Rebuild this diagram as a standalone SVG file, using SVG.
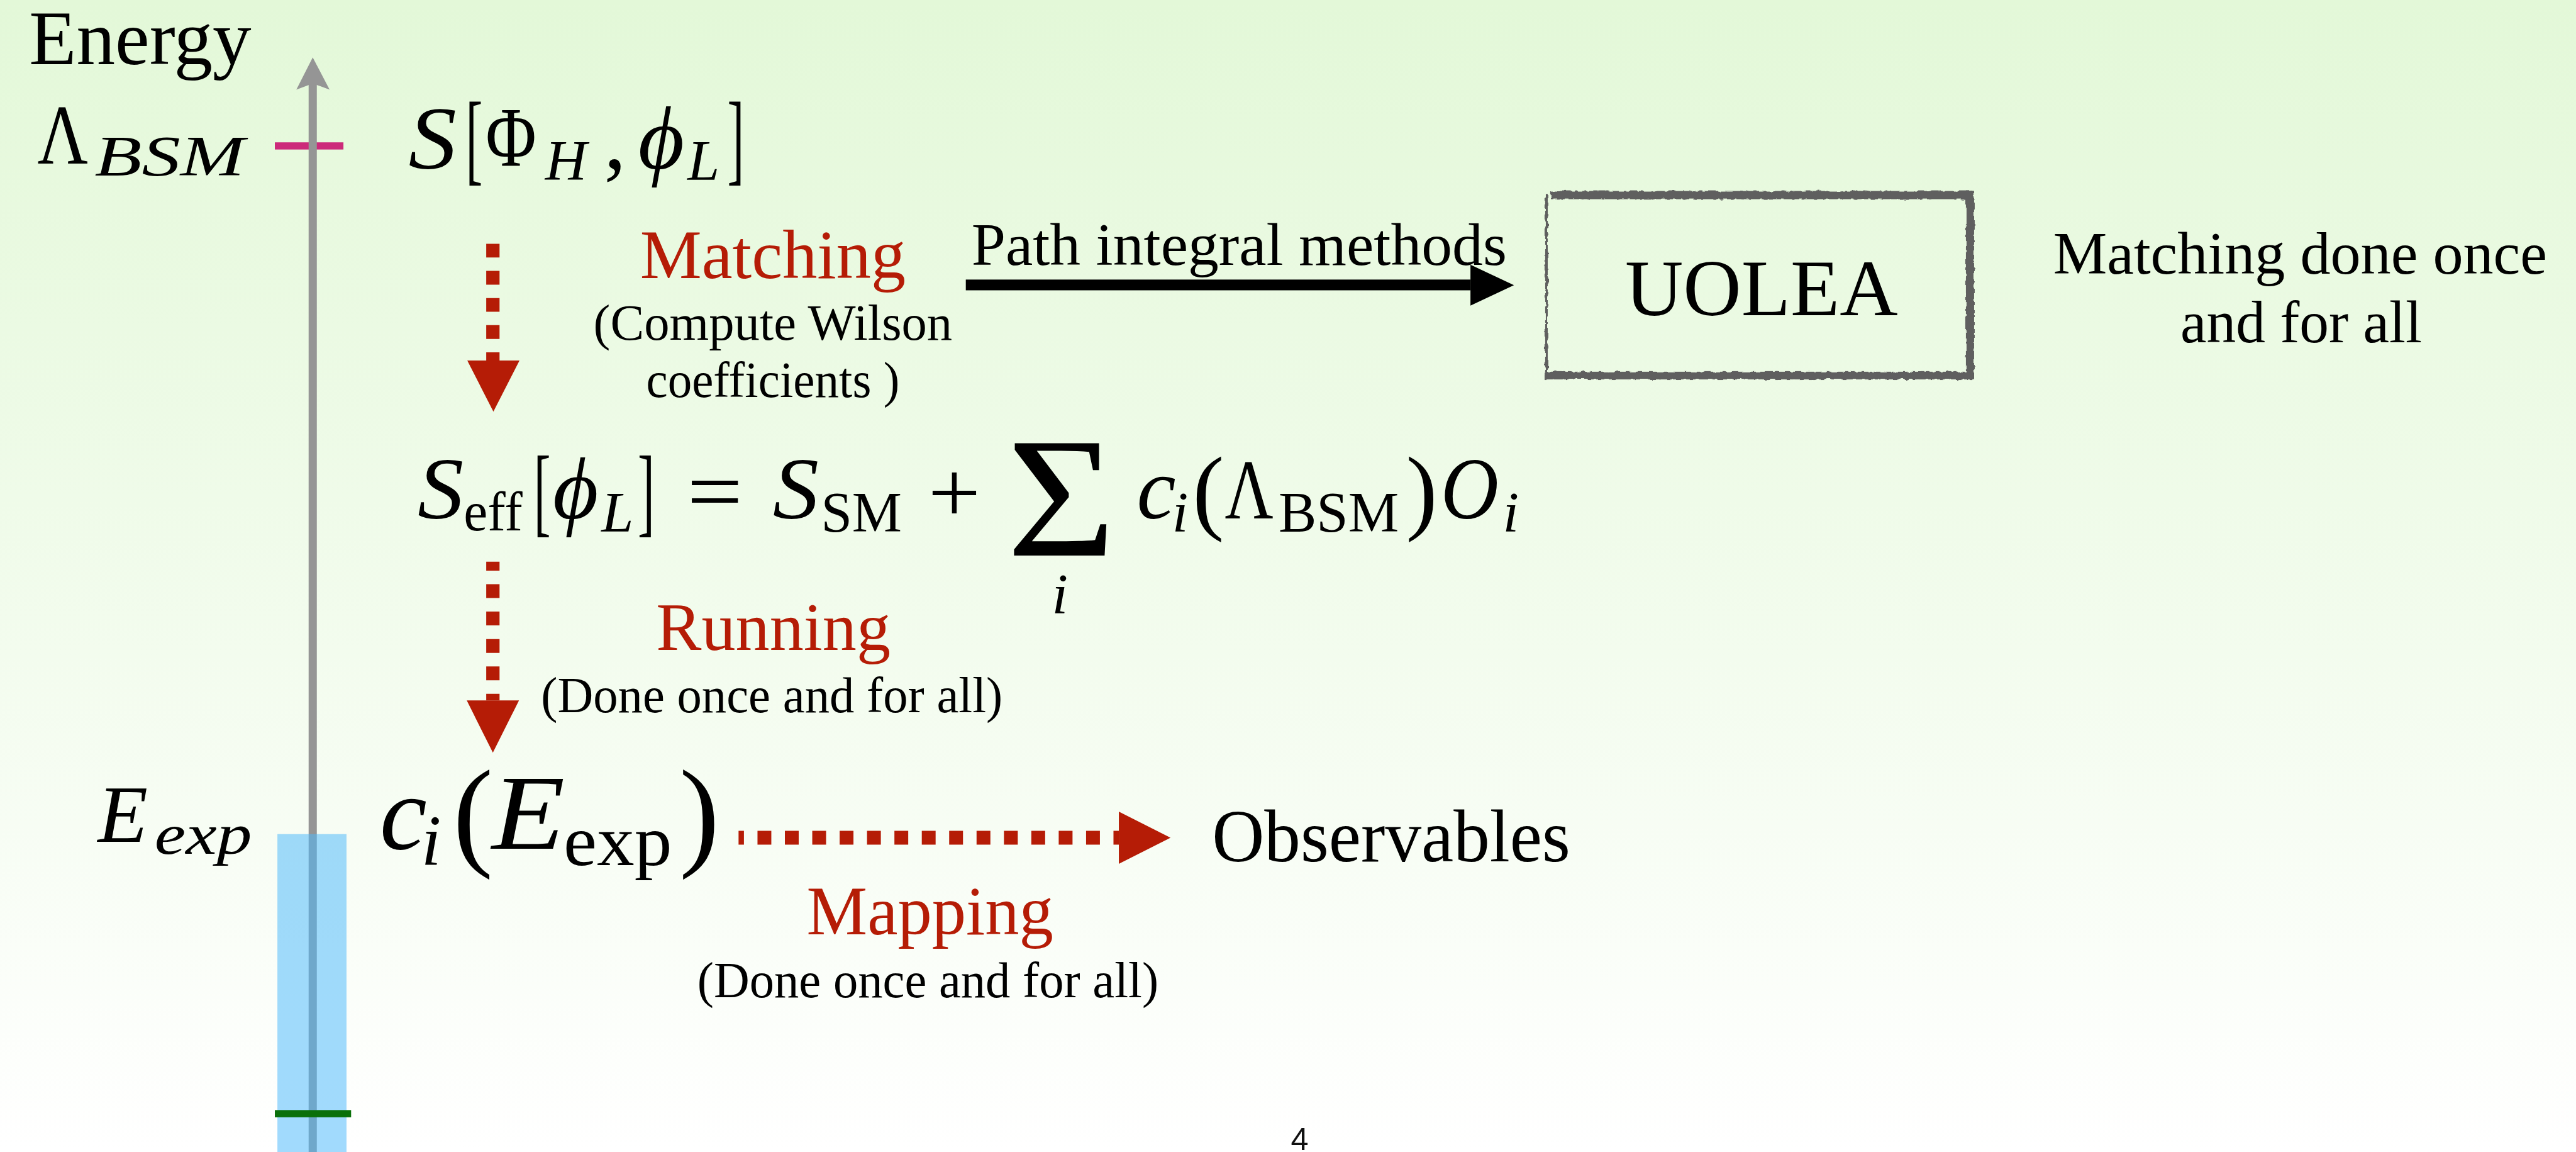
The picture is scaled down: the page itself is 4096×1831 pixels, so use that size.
<svg xmlns="http://www.w3.org/2000/svg" width="4096" height="1831" viewBox="0 0 4096 1831">
<defs>
<linearGradient id="bgGrad" x1="0" y1="0" x2="0" y2="1">
<stop offset="0" stop-color="#e3f8d8"/>
<stop offset="1" stop-color="#ffffff"/>
</linearGradient>
<filter id="rough" x="-5%" y="-5%" width="110%" height="110%">
<feTurbulence type="fractalNoise" baseFrequency="0.09" numOctaves="2" seed="3"/>
<feDisplacementMap in="SourceGraphic" scale="7" xChannelSelector="R" yChannelSelector="G"/>
</filter>
<style>
.t{font-family:"Liberation Serif","DejaVu Serif",serif;fill:#000}
.it{font-style:italic}
.red{fill:#b51c06}
.dash{stroke:#b51c06;fill:none}
.head{fill:#b51c06}
.frame{fill:#5f5f5f}
</style>
</defs>
<rect x="0" y="0" width="4096" height="1831" fill="url(#bgGrad)"/>
<g transform="scale(0.81383)">

<g id="axis">
<rect x="537" y="278" width="134" height="14" fill="#cc2a7a"/>
<rect x="603" y="160" width="16" height="2090" fill="#959595"/>
<polygon points="611,112 644,175 611,163 579,175" fill="#959595"/>
<rect x="542" y="1629" width="135" height="621" fill="#4ebafc" fill-opacity="0.535"/>
<rect x="537" y="2168" width="149" height="14" fill="#0a700a"/>
</g>

<g id="n-energy">
<text class="t" x="57" y="125" font-size="150" textLength="434" lengthAdjust="spacingAndGlyphs">Energy</text>
</g>

<g id="n-lambda">
<text class="t" x="73" y="320" font-size="166" textLength="99" lengthAdjust="spacingAndGlyphs">Λ</text>
<text class="t it" x="185" y="343" font-size="113" textLength="293" lengthAdjust="spacingAndGlyphs">BSM</text>
</g>

<g id="n-eexp">
<text class="t it" x="191" y="1644" font-size="160">E</text>
<text class="t it" x="302" y="1667" font-size="113" textLength="190" lengthAdjust="spacingAndGlyphs">exp</text>
</g>

<g id="n-action">
<text class="t it" x="798" y="329" font-size="174" textLength="94" lengthAdjust="spacingAndGlyphs">S</text>
<text class="t" x="910" y="335" font-size="199" textLength="33" lengthAdjust="spacingAndGlyphs">[</text>
<text class="t" x="949" y="324" font-size="166" textLength="99" lengthAdjust="spacingAndGlyphs">Φ</text>
<text class="t it" x="1065" y="351" font-size="113">H</text>
<text class="t" x="1180" y="329" font-size="174">,</text>
<text class="t it" x="1247" y="329" font-size="174">ϕ</text>
<text class="t it" x="1343" y="351" font-size="113">L</text>
<text class="t" x="1421" y="335" font-size="199" textLength="33" lengthAdjust="spacingAndGlyphs">]</text>
</g>

<g id="n-matching-label">
<text class="t red" x="1510" y="543" font-size="135" text-anchor="middle" textLength="519" lengthAdjust="spacingAndGlyphs">Matching</text>
<text class="t" x="1510" y="663" font-size="98" text-anchor="middle" textLength="701" lengthAdjust="spacingAndGlyphs">(Compute Wilson</text>
<text class="t" x="1510" y="775" font-size="98" text-anchor="middle" textLength="495" lengthAdjust="spacingAndGlyphs">coefficients )</text>
</g>

<g id="n-path-label">
<text class="t" x="1898" y="517" font-size="118" textLength="1046" lengthAdjust="spacingAndGlyphs">Path integral methods</text>
</g>

<g id="n-uolea">
<g filter="url(#rough)">
<rect class="frame" x="3030" y="373" width="826" height="16"/>
<rect class="frame" x="3841" y="373" width="16" height="368"/>
<rect class="frame" x="3018" y="726" width="839" height="15"/>
<rect class="frame" x="3019" y="380" width="5" height="355"/>
</g>
<text class="t" x="3175" y="615" font-size="157" textLength="533" lengthAdjust="spacingAndGlyphs">UOLEA</text>
</g>

<g id="n-once">
<text class="t" x="4494" y="535" font-size="116" text-anchor="middle" textLength="965" lengthAdjust="spacingAndGlyphs">Matching done once</text>
<text class="t" x="4496" y="668" font-size="116" text-anchor="middle" textLength="472" lengthAdjust="spacingAndGlyphs">and for all</text>
</g>

<g id="n-seff">
<text class="t it" x="816" y="1013" font-size="172" textLength="90" lengthAdjust="spacingAndGlyphs">S</text>
<text class="t" x="906" y="1036" font-size="108" textLength="115" lengthAdjust="spacingAndGlyphs">eff</text>
<text class="t" x="1043" y="1023" font-size="193" textLength="33" lengthAdjust="spacingAndGlyphs">[</text>
<text class="t it" x="1080" y="1013" font-size="172">ϕ</text>
<text class="t it" x="1175" y="1038" font-size="113">L</text>
<text class="t" x="1246" y="1023" font-size="193" textLength="33" lengthAdjust="spacingAndGlyphs">]</text>
<text class="t" x="1342" y="1018" font-size="172" textLength="109" lengthAdjust="spacingAndGlyphs">=</text>
<text class="t it" x="1510" y="1013" font-size="172" textLength="90" lengthAdjust="spacingAndGlyphs">S</text>
<text class="t" x="1604" y="1038" font-size="113" textLength="158" lengthAdjust="spacingAndGlyphs">SM</text>
<text class="t" x="1813" y="1020" font-size="172" textLength="103" lengthAdjust="spacingAndGlyphs">+</text>
<text class="t" x="1967" y="1085" font-size="335" textLength="213" lengthAdjust="spacingAndGlyphs">Σ</text>
<text class="t it" x="2055" y="1198" font-size="113">i</text>
<text class="t it" x="2221" y="1013" font-size="172">c</text>
<text class="t it" x="2290" y="1038" font-size="113">i</text>
<text class="t" x="2330" y="1020" font-size="185">(</text>
<text class="t" x="2393" y="1013" font-size="166" textLength="95" lengthAdjust="spacingAndGlyphs">Λ</text>
<text class="t" x="2498" y="1038" font-size="113" textLength="235" lengthAdjust="spacingAndGlyphs">BSM</text>
<text class="t" x="2747" y="1020" font-size="185">)</text>
<text class="t it" x="2815" y="1013" font-size="172" textLength="113" lengthAdjust="spacingAndGlyphs">O</text>
<text class="t it" x="2936" y="1038" font-size="113">i</text>
</g>

<g id="n-running-label">
<text class="t red" x="1511" y="1269" font-size="133" text-anchor="middle" textLength="458" lengthAdjust="spacingAndGlyphs">Running</text>
<text class="t" x="1508" y="1391" font-size="98" text-anchor="middle" textLength="902" lengthAdjust="spacingAndGlyphs">(Done once and for all)</text>
</g>

<g id="n-ci">
<text class="t it" x="742" y="1658" font-size="208">c</text>
<text class="t it" x="823" y="1690" font-size="140">i</text>
<text class="t" x="885" y="1667" font-size="236">(</text>
<text class="t it" x="961" y="1658" font-size="208" textLength="143" lengthAdjust="spacingAndGlyphs">E</text>
<text class="t" x="1101" y="1690" font-size="140" textLength="212" lengthAdjust="spacingAndGlyphs">exp</text>
<text class="t" x="1327" y="1667" font-size="236">)</text>
</g>

<g id="n-observables">
<text class="t" x="2368" y="1682" font-size="145" textLength="700" lengthAdjust="spacingAndGlyphs">Observables</text>
</g>

<g id="n-mapping-label">
<text class="t red" x="1817" y="1825" font-size="135" text-anchor="middle" textLength="482" lengthAdjust="spacingAndGlyphs">Mapping</text>
<text class="t" x="1813" y="1947" font-size="98" text-anchor="middle" textLength="901" lengthAdjust="spacingAndGlyphs">(Done once and for all)</text>
</g>

<g id="n-page">
<text x="2522" y="2246" font-size="62" font-family="Liberation Sans, Arial, sans-serif" fill="#111">4</text>
</g>

<g id="connectors">
<line class="dash" x1="963" y1="476" x2="963" y2="704" stroke-width="26" stroke-dasharray="27 26"/>
<polygon class="head" points="913,704 1015,704 964,804"/>
<line class="dash" x1="963" y1="1097" x2="963" y2="1368" stroke-width="26" stroke-dasharray="27 26.5" stroke-dashoffset="9.5"/>
<polygon class="head" points="912,1368 1014,1368 963,1470"/>
<line class="dash" x1="1443" y1="1636" x2="2186" y2="1636" stroke-width="27" stroke-dasharray="27 26.5" stroke-dashoffset="16.5"/>
<polygon class="head" points="2186,1585 2287,1636 2186,1687"/>
<rect x="1887" y="546" width="986" height="21" fill="#000"/>
<polygon points="2873,517 2958,557 2873,597" fill="#000"/>
</g>

</g>
</svg>
